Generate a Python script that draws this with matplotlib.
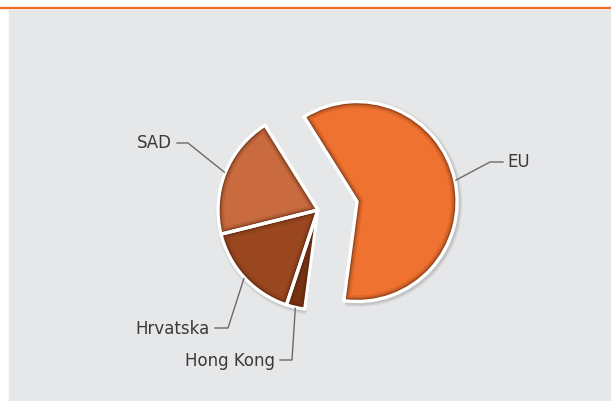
import numpy as np
import matplotlib.pyplot as plt
from matplotlib.patches import Wedge, Rectangle

# data
labels = ["EU", "SAD", "Hrvatska", "Hong Kong"]
shares = [61, 20, 16, 3]
colors = ["#f07230", "#c96b3f", "#9a4720", "#7a3414"]
explode = [40, 0, 0, 0]

# label layout (pixel coords, y down): text anchor and elbow point
label_pos = [(507, 162), (172, 143), (210, 329), (275, 361)]
label_ha = ["left", "right", "right", "right"]
elbows = [(490, 162), (188, 143), (228, 328), (292, 360)]

W, H = 611, 401
fig = plt.figure(figsize=(W / 100, H / 100), dpi=100)
ax = fig.add_axes([0, 0, 1, 1])
ax.set_xlim(0, W)
ax.set_ylim(H, 0)
ax.axis("off")

# background panel + orange rule
ax.add_patch(Rectangle((9, 10), W - 9, H - 10, color="#e6e7e9", zorder=0))
ax.plot([0, W], [7.5, 7.5], color="#f06a24", lw=1.6, zorder=1,
        solid_capstyle="butt")

cx, cy, r = 318, 210, 100
start = 122 - 360 * shares[0] / sum(shares)

fracs = np.array(shares) / sum(shares)
theta1 = start
for i, f in enumerate(fracs):
    theta2 = theta1 + 360 * f
    mid = np.deg2rad((theta1 + theta2) / 2)
    x0 = cx + explode[i] * np.cos(mid)
    y0 = cy - explode[i] * np.sin(mid)
    # y axis points down, so flip angles
    a1, a2 = -theta2, -theta1
    # soft shadow
    for k, al in [(4, 0.06), (3, 0.08), (2, 0.12)]:
        ax.add_patch(Wedge((x0 + 1.5, y0 + 1.5), r + k, a1, a2,
                           color="#555555", alpha=al, lw=0, zorder=2))
    face = Wedge((x0, y0), r, a1, a2, facecolor=colors[i], lw=0, zorder=3)
    ax.add_patch(face)
    # inner bevel, clipped so only the inside half of the stroke shows
    for lw_b, al in [(9, 0.12), (6, 0.2), (4, 0.35)]:
        bev = Wedge((x0, y0), r, a1, a2, facecolor="none",
                    edgecolor="#4a1e08", lw=lw_b, alpha=al, zorder=3.5)
        ax.add_patch(bev)
        bev.set_clip_path(face)
    ax.add_patch(Wedge((x0, y0), r, a1, a2, facecolor="none",
                       edgecolor="white", lw=2.4, zorder=4,
                       joinstyle="round"))
    # leader line and label
    ax0 = x0 + (r + 1) * np.cos(mid)
    ay0 = y0 - (r + 1) * np.sin(mid)
    tx, ty = label_pos[i]
    ex, ey = elbows[i]
    gap = 5 if label_ha[i] == "right" else -4
    ax.plot([ax0, ex, tx + gap], [ay0, ey, ey], color="#6a6a6a", lw=1,
            zorder=5)
    ax.text(tx, ty, labels[i], ha=label_ha[i], va="center", fontsize=12,
            color="#3a3a3a", family="DejaVu Sans", zorder=6)
    theta1 = theta2

fig.savefig("out.png", dpi=100)
